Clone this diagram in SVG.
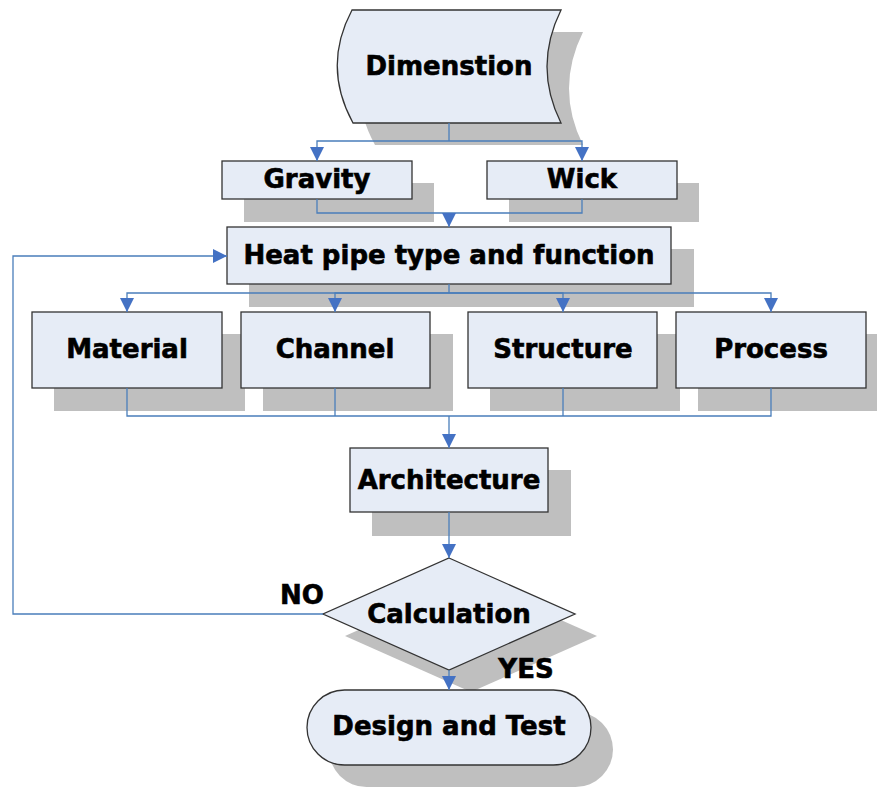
<svg xmlns="http://www.w3.org/2000/svg" width="877" height="789" viewBox="0 0 877 789">
<defs>
<style>
.sh{fill:#bfbfbf;stroke:none}
.bx{fill:#e6ecf6;stroke:#333;stroke-width:1.3}
.t{font-family:"DejaVu Sans",Verdana,sans-serif;font-weight:bold;font-size:26px;fill:#000;stroke:#000;stroke-width:0.6;text-anchor:middle}
.c{fill:none;stroke:#4a7ebb;stroke-width:1.3}
</style>
<marker id="ah" viewBox="0 0 14 14" refX="14" refY="7" markerWidth="14" markerHeight="14" markerUnits="userSpaceOnUse" orient="auto">
<path d="M0,0 L14,7 L0,14 Z" fill="#4472c4"/>
</marker>
</defs>
<rect width="877" height="789" fill="#fff"/>
<g id="dimension">
<path class="sh" d="M374,32 L583,32 Q555,88.5 583,145 L375,145 Q344,88.5 374,32 Z"/>
<path class="bx" d="M352,10 L561,10 Q533,66.5 561,123 L353,123 Q322,66.5 352,10 Z"/>
<text class="t" x="449" y="75">Dimenstion</text>
</g>
<g id="gravity">
<rect class="sh" x="244" y="183" width="190" height="39"/>
<rect class="bx" x="222" y="161" width="190" height="38"/>
<text class="t" x="317" y="188">Gravity</text>
</g>
<g id="wick">
<rect class="sh" x="509" y="183" width="190" height="39"/>
<rect class="bx" x="487" y="161" width="190" height="38"/>
<text class="t" x="582" y="188">Wick</text>
</g>
<g id="heatpipe">
<rect class="sh" x="249" y="249" width="445" height="58"/>
<rect class="bx" x="227" y="227" width="444" height="57"/>
<text class="t" x="449" y="264">Heat pipe type and function</text>
</g>
<g id="material">
<rect class="sh" x="54" y="334" width="191" height="77"/>
<rect class="bx" x="32" y="312" width="190" height="76"/>
<text class="t" x="127" y="358">Material</text>
</g>
<g id="channel">
<rect class="sh" x="263" y="334" width="190" height="77"/>
<rect class="bx" x="241" y="312" width="189" height="76"/>
<text class="t" x="335" y="358">Channel</text>
</g>
<g id="structure">
<rect class="sh" x="490" y="334" width="190" height="77"/>
<rect class="bx" x="468" y="312" width="189" height="76"/>
<text class="t" x="563" y="358">Structure</text>
</g>
<g id="process">
<rect class="sh" x="698" y="334" width="190" height="77"/>
<rect class="bx" x="676" y="312" width="190" height="76"/>
<text class="t" x="771" y="358">Process</text>
</g>
<g id="architecture">
<rect class="sh" x="372" y="470" width="199" height="66"/>
<rect class="bx" x="350" y="448" width="198" height="64"/>
<text class="t" x="449" y="489">Architecture</text>
</g>
<g id="calculation">
<path class="sh" d="M471,580 L597,636 L471,692 L345,636 Z"/>
<path class="bx" d="M449,558 L575,614 L449,670 L323,614 Z"/>
<text class="t" x="449" y="623">Calculation</text>
</g>
<g id="design">
<rect class="sh" x="329" y="712" width="284" height="75" rx="37.5"/>
<rect class="bx" x="307" y="690" width="284" height="75" rx="37.5"/>
<text class="t" x="449" y="735">Design and Test</text>
</g>
<g id="labels">
<text class="t" x="302" y="604">NO</text>
<text class="t" x="526" y="678">YES</text>
</g>
<g id="connectors">
<path class="c" d="M449,123 V141"/>
<path class="c" d="M449,141 H317 V161" marker-end="url(#ah)"/>
<path class="c" d="M449,141 H582 V161" marker-end="url(#ah)"/>
<path class="c" d="M317,199 V213 H582 V199"/>
<path class="c" d="M449,213 V227" marker-end="url(#ah)"/>
<path class="c" d="M449,284 V293"/>
<path class="c" d="M449,293 H127 V312" marker-end="url(#ah)"/>
<path class="c" d="M449,293 H335 V312" marker-end="url(#ah)"/>
<path class="c" d="M449,293 H563 V312" marker-end="url(#ah)"/>
<path class="c" d="M449,293 H771 V312" marker-end="url(#ah)"/>
<path class="c" d="M127,388 V416 H771 V388"/>
<path class="c" d="M335,388 V416"/>
<path class="c" d="M563,388 V416"/>
<path class="c" d="M449,416 V448" marker-end="url(#ah)"/>
<path class="c" d="M449,512 V558" marker-end="url(#ah)"/>
<path class="c" d="M449,670 V690" marker-end="url(#ah)"/>
<path class="c" d="M323,614 H13 V256 H227" marker-end="url(#ah)"/>
</g>
</svg>
